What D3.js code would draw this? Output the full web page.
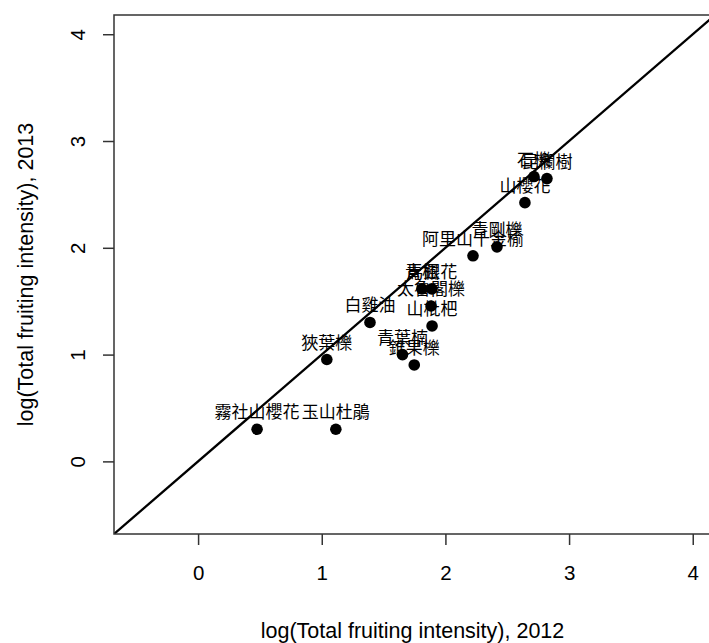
<!DOCTYPE html>
<html><head><meta charset="utf-8">
<script src="https://cdn.jsdelivr.net/npm/d3@7"></script>
<style>body{margin:0;background:#fff}svg{display:block}</style>
</head><body>
<svg id="c" width="709" height="643"></svg>
<script>
const species = ["霧社山櫻花","玉山杜鵑","狹葉櫟","白雞油","青葉楠","錐果櫟","山枇杷","太魯閣櫟","青楓","馬銀花","阿里山千金榆","青剛櫟","山櫻花","石櫟","昆欄樹"];
const x2012 = [0.477,1.114,1.041,1.39,1.653,1.748,1.892,1.884,1.81,1.89,2.223,2.417,2.643,2.716,2.821];
const y2013 = [0.301,0.301,0.954,1.301,1.0,0.903,1.268,1.455,1.615,1.615,1.925,2.009,2.423,2.667,2.648];
const xTicks = [0,1,2,3,4];
const yTicks = [0,1,2,3,4];
const xTitle = "log(Total fruiting intensity), 2012";
const yTitle = "log(Total fruiting intensity), 2013";

const svg = d3.select("#c");
const L=114, R=715, T=15, B=534;
const x = d3.scaleLinear().domain([-0.68,4.18]).range([L,R]);
const y = d3.scaleLinear().domain([-0.68,4.18]).range([B,T]);
const latin = "'Liberation Sans', Arial, sans-serif";

svg.append("defs").append("clipPath").attr("id","pc")
  .append("rect").attr("x",L).attr("y",T).attr("width",R-L).attr("height",B-T);

// diagonal y = x
svg.append("line").attr("clip-path","url(#pc)")
  .attr("x1",x(-0.68)).attr("y1",y(-0.68)).attr("x2",x(4.18)).attr("y2",y(4.18))
  .attr("stroke","#000").attr("stroke-width",2.3);

// frame
svg.append("rect").attr("x",L).attr("y",T).attr("width",R-L).attr("height",B-T)
  .attr("fill","none").attr("stroke","#333").attr("stroke-width",1.5);

// axes
const xa = svg.append("g").attr("transform",`translate(0,${B})`)
  .call(d3.axisBottom(x).tickValues(xTicks).tickSize(11).tickPadding(20).tickFormat(d3.format("d")));
const ya = svg.append("g").attr("transform",`translate(${L},0)`)
  .call(d3.axisLeft(y).tickValues(yTicks).tickSize(11).tickPadding(0).tickFormat(d3.format("d")));
[xa,ya].forEach(a=>{
  a.select(".domain").remove();
  a.selectAll(".tick line").attr("stroke","#333").attr("stroke-width",1.5);
  a.selectAll("text").attr("font-family",latin).attr("font-size",20.5).attr("fill","#000");
});
ya.selectAll(".tick text")
  .attr("x",null).attr("dy",null)
  .attr("text-anchor","middle")
  .attr("transform","translate(-29,0) rotate(-90)");

// points
svg.append("g").selectAll("circle").data(species).join("circle")
  .attr("cx",(d,i)=>x(x2012[i])).attr("cy",(d,i)=>y(y2013[i]))
  .attr("r",5.8).attr("fill","#000");

// labels
svg.append("g").selectAll("text").data(species).join("text")
  .attr("x",(d,i)=>x(x2012[i])).attr("y",(d,i)=>y(y2013[i])-11)
  .attr("text-anchor","middle")
  .attr("font-family","'Noto Sans CJK TC', sans-serif").attr("font-size",17)
  .attr("fill","#000").text(d=>d);

// titles
svg.append("text").attr("x",(L+R)/2 - 2).attr("y",638).attr("text-anchor","middle")
  .attr("font-family",latin).attr("font-size",21.5).text(xTitle);
svg.append("text").attr("transform",`translate(33,${(T+B)/2}) rotate(-90)`).attr("text-anchor","middle")
  .attr("font-family",latin).attr("font-size",21.5).text(yTitle);
</script>
</body></html>
